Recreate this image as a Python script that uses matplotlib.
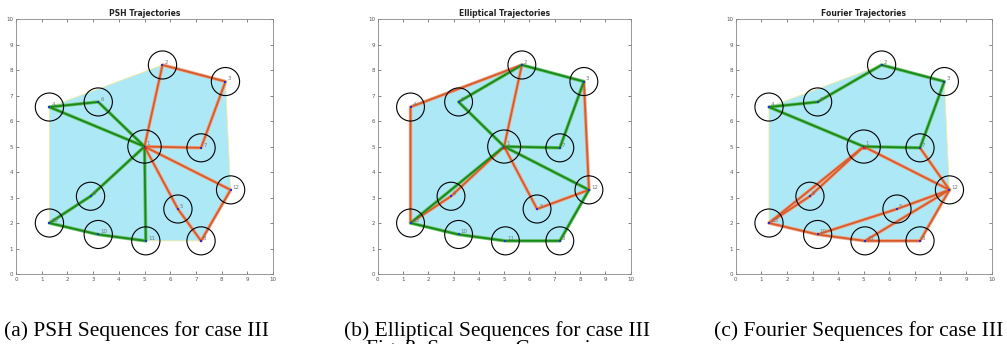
import matplotlib
matplotlib.use("Agg")
import matplotlib.pyplot as plt
import numpy as np
from matplotlib.patches import Circle, Polygon

# waypoint coordinates (1-based numbering in the labels)
wp_x = [5.0, 5.7, 8.15, 1.3, 6.3, 3.2, 7.2, 7.2, 2.9, 3.2, 5.05, 8.35, 1.3]
wp_y = [5.0, 8.2, 7.55, 6.55, 2.55, 6.75, 4.95, 1.3, 3.05, 1.55, 1.3, 3.3, 2.0]
wp_r = [0.65] + [0.55] * 12

titles = ["PSH Trajectories", "Elliptical Trajectories", "Fourier Trajectories"]
captions = ["(a) PSH Sequences for case III",
            "(b) Elliptical Sequences for case III",
            "(c) Fourier Sequences for case III"]

# sequences of waypoint ids per method
psh_green = [[1, 6, 4, 1], [1, 9, 13, 10, 11, 1]]
psh_orange = [[1, 7, 3, 2, 1], [1, 12, 8, 5, 1]]
ell_green = [[1, 7, 3, 2, 6, 1], [1, 12, 8, 11, 10, 13, 1]]
ell_orange = [[1, 2, 4, 13, 9, 1], [1, 5, 12, 3]]
fou_green = [[1, 7, 3, 2, 6, 4, 1]]
fou_orange = [[7, 12, 8, 11, 10, 13, 1, 12], [13, 9, 1], [11, 12], [10, 5, 12]]

panels = [(psh_green, psh_orange), (ell_green, ell_orange), (fou_green, fou_orange)]
axes_pos = [[0.0159, 0.2035, 0.2552, 0.741],
            [0.3750, 0.2035, 0.2513, 0.741],
            [0.7306, 0.2035, 0.2542, 0.741]]
caption_x = [0.136, 0.494, 0.853]


def convex_hull(xs, ys):
    pts = sorted(set(zip(xs, ys)))

    def cross(o, a, b):
        return (a[0] - o[0]) * (b[1] - o[1]) - (a[1] - o[1]) * (b[0] - o[0])
    lower, upper = [], []
    for p in pts:
        while len(lower) >= 2 and cross(lower[-2], lower[-1], p) <= 0:
            lower.pop()
        lower.append(p)
    for p in reversed(pts):
        while len(upper) >= 2 and cross(upper[-2], upper[-1], p) <= 0:
            upper.pop()
        upper.append(p)
    return lower[:-1] + upper[:-1]


def draw_seq(ax, seq, color, under, lw):
    xs = [wp_x[i - 1] for i in seq]
    ys = [wp_y[i - 1] for i in seq]
    ax.plot(xs, ys, color=under, lw=lw + 1.2, solid_capstyle='round', zorder=3)
    ax.plot(xs, ys, color=color, lw=lw, solid_capstyle='round', zorder=4)


fig = plt.figure(figsize=(10.07, 3.44), dpi=100)
hull = convex_hull(wp_x, wp_y)

for k, (greens, oranges) in enumerate(panels):
    ax = fig.add_axes(axes_pos[k])
    ax.add_patch(Polygon(hull, closed=True, facecolor='#ade8f7',
                         edgecolor='#f2eaa0', lw=0.6, zorder=1))
    for seq in oranges:
        draw_seq(ax, seq, '#d95a2a', '#eaa88a', 1.3)
    for seq in greens:
        draw_seq(ax, seq, '#178a17', '#6cc06c', 1.3)
    for i in range(len(wp_x)):
        ax.add_patch(Circle((wp_x[i], wp_y[i]), wp_r[i], fill=False,
                            edgecolor='black', lw=0.8, zorder=5))
        ax.text(wp_x[i] + 0.08, wp_y[i] + 0.05, str(i + 1), fontsize=4,
                color='#777777', zorder=6)
    ax.scatter(wp_x, wp_y, s=3, color='#2233cc', marker='s', zorder=6, lw=0)
    ax.scatter([wp_x[0]], [wp_y[0]], s=8, color='#dd2222', marker='^', zorder=7, lw=0)

    ax.set_xlim(0, 10)
    ax.set_ylim(0, 10)
    ax.set_xticks(range(11))
    ax.set_yticks(range(11))
    ax.tick_params(direction='in', top=True, right=True, labelsize=4,
                   length=2.5, width=0.5, colors='#555555', pad=2)
    for s in ax.spines.values():
        s.set_color('#888888')
        s.set_linewidth(0.6)
    ax.set_title(titles[k], fontsize=5.5, fontweight='bold', pad=2, color='#222222')

    fig.text(caption_x[k], 0.037, captions[k], ha='center', va='center',
             fontsize=15.5, family='Liberation Serif')

# figure caption line, cut off at the bottom as in the source page
fig.text(0.49, -0.03, "Fig. 8: Sequence Comparison", ha='center', va='baseline',
         fontsize=15.5, family='Liberation Serif')

fig.savefig('out.png', dpi=100)
